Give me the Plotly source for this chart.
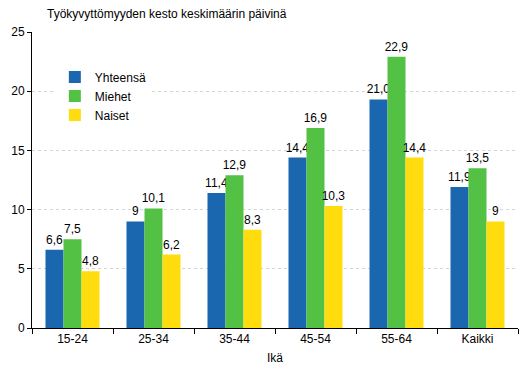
import plotly.graph_objects as go

categories = ["15-24", "25-34", "35-44", "45-54", "55-64", "Kaikki"]
series_names = ["Yhteensä", "Miehet", "Naiset"]
yhteensa = [6.6, 9.0, 11.4, 14.4, 19.3, 11.9]
miehet = [7.5, 10.1, 12.9, 16.9, 22.9, 13.5]
naiset = [4.8, 6.2, 8.3, 10.3, 14.4, 9.0]
yhteensa_labels = ["6,6", "9", "11,4", "14,4", "21,0", "11,9"]
miehet_labels = ["7,5", "10,1", "12,9", "16,9", "22,9", "13,5"]
naiset_labels = ["4,8", "6,2", "8,3", "10,3", "14,4", "9"]
colors = ["#1A67B0", "#52C144", "#FFDC0E"]
y_ticks = [0, 5, 10, 15, 20, 25]

font = "Liberation Sans, Arial, sans-serif"
fig = go.Figure()
for name, vals, labs, col in zip(series_names, [yhteensa, miehet, naiset],
                                 [yhteensa_labels, miehet_labels, naiset_labels], colors):
    fig.add_trace(go.Bar(x=categories, y=vals, name=name, marker_color=col,
                         marker_line_width=0, text=labs, textposition="outside",
                         textfont=dict(family=font, size=12, color="#000"),
                         cliponaxis=False))

fig.update_layout(
    width=530, height=378,
    margin=dict(l=32, r=12, t=32, b=50, autoexpand=False),
    paper_bgcolor="white", plot_bgcolor="white",
    barmode="group", bargap=0.333, bargroupgap=0,
    font=dict(family=font, size=12, color="#000"),
    showlegend=True,
    legend=dict(x=0.047, y=0.897, xanchor="left", yanchor="top", bgcolor="white",
                font=dict(family=font, size=12, color="#000"),
                tracegroupgap=0, itemwidth=30, borderwidth=0),
    annotations=[
        dict(text="Työkyvyttömyyden kesto keskimäärin päivinä", xref="paper", yref="paper",
             x=0.027, y=1.0, yshift=18, xanchor="left", yanchor="middle", showarrow=False,
             font=dict(family=font, size=12, color="#000")),
    ],
    uniformtext=dict(mode="show", minsize=12),
)
fig.update_xaxes(showline=True, linecolor="#000", linewidth=1, ticks="outside",
                 tickson="boundaries", ticklen=5, tickcolor="#000", automargin=False,
                 title=dict(text="Ikä", font=dict(family=font, size=12), standoff=8),
                 tickfont=dict(family=font, size=12, color="#000"))
fig.update_yaxes(range=[0, 25], tickvals=y_ticks, showline=True, linecolor="#000", linewidth=1,
                 ticks="outside", ticklen=4, tickcolor="#000", automargin=False,
                 showgrid=True, gridcolor="#d4d4d4", griddash="dot", gridwidth=1,
                 zeroline=False, tickfont=dict(family=font, size=12, color="#000"))

fig.write_html("out.html", config={"displayModeBar": False},
               post_script="document.body.style.margin='0';")
